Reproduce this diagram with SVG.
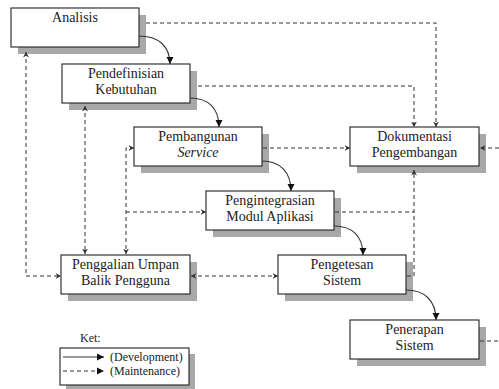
<svg xmlns="http://www.w3.org/2000/svg" width="499" height="389" viewBox="0 0 499 389">
<style>
.sh{fill:#a8a8a8}
.bx{fill:#fff;stroke:#222;stroke-width:1.1}
.t{font-size:14px;fill:#222;text-anchor:middle}
.lt{font-size:12px;fill:#222}
.sol{fill:none;stroke:#333;stroke-width:1.1}
.dsh{fill:none;stroke:#333;stroke-width:1;stroke-dasharray:4,3}
</style>
<defs>
<marker id="s" markerUnits="userSpaceOnUse" markerWidth="8" markerHeight="8" refX="7" refY="4" orient="auto"><path d="M0,0.5 L7,4 L0,7.5 z" fill="#111"/></marker>
<marker id="o" markerUnits="userSpaceOnUse" markerWidth="7" markerHeight="7" refX="5.5" refY="3" orient="auto-start-reverse"><path d="M0,0 L5.5,3 L0,6 L1.8,3 z" fill="#333"/></marker>
</defs>
<g font-family="Liberation Serif, Times New Roman, DejaVu Serif, serif">
<g id="analisis">
<rect class="sh" x="18" y="15" width="128" height="39"/>
<rect class="bx" x="11" y="8" width="128" height="39"/>
<text class="t" x="75" y="22">Analisis</text>
</g>
<g id="pendefinisian">
<rect class="sh" x="69" y="71" width="128" height="39"/>
<rect class="bx" x="62" y="64" width="128" height="39"/>
<text class="t" x="126" y="78">Pendefinisian</text>
<text class="t" x="126" y="94">Kebutuhan</text>
</g>
<g id="pembangunan">
<rect class="sh" x="141" y="134" width="128" height="39"/>
<rect class="bx" x="134" y="127" width="128" height="39"/>
<text class="t" x="198" y="141">Pembangunan</text>
<text class="t" x="198" y="157" font-style="italic">Service</text>
</g>
<g id="dokumentasi">
<rect class="sh" x="357" y="134" width="129" height="39"/>
<rect class="bx" x="350" y="127" width="129" height="39"/>
<text class="t" x="414.5" y="141">Dokumentasi</text>
<text class="t" x="414.5" y="157">Pengembangan</text>
</g>
<g id="pengintegrasian">
<rect class="sh" x="213" y="198" width="128" height="39"/>
<rect class="bx" x="206" y="191" width="128" height="39"/>
<text class="t" x="270" y="205">Pengintegrasian</text>
<text class="t" x="270" y="221">Modul Aplikasi</text>
</g>
<g id="penggalian">
<rect class="sh" x="68" y="262" width="129" height="39"/>
<rect class="bx" x="61" y="255" width="129" height="39"/>
<text class="t" x="125.5" y="269">Penggalian Umpan</text>
<text class="t" x="125.5" y="285">Balik Pengguna</text>
</g>
<g id="pengetesan">
<rect class="sh" x="285" y="262" width="128" height="39"/>
<rect class="bx" x="278" y="255" width="128" height="39"/>
<text class="t" x="342" y="269">Pengetesan</text>
<text class="t" x="342" y="285">Sistem</text>
</g>
<g id="penerapan">
<rect class="sh" x="357" y="327" width="129" height="39"/>
<rect class="bx" x="350" y="320" width="129" height="39"/>
<text class="t" x="414.5" y="334">Penerapan</text>
<text class="t" x="414.5" y="350">Sistem</text>
</g>
<g id="connectors">
<path class="sol" d="M139,36 C158,36 170,46 170,64" marker-end="url(#s)"/>
<path class="sol" d="M190,98 C208,98 219,108 219,127" marker-end="url(#s)"/>
<path class="sol" d="M262,161 C280,161 291,172 291,191" marker-end="url(#s)"/>
<path class="sol" d="M334,226 C352,226 363,236 363,255" marker-end="url(#s)"/>
<path class="sol" d="M406,290 C424,290 436,300 436,320" marker-end="url(#s)"/>
<path class="dsh" d="M146,23 H436 V127" marker-end="url(#o)"/>
<path class="dsh" d="M198,86 H414 V127" marker-end="url(#o)"/>
<path class="dsh" d="M263,148 H350" marker-end="url(#o)"/>
<path class="dsh" d="M499,148 H480" marker-end="url(#o)"/>
<path class="dsh" d="M335,212 H414"/>
<path class="dsh" d="M407,276 H414 V170" marker-end="url(#o)"/>
<path class="dsh" d="M480,341 H499"/>
<path class="dsh" d="M26,52 V276 H61" marker-start="url(#o)" marker-end="url(#o)"/>
<path class="dsh" d="M85,106 V254" marker-start="url(#o)" marker-end="url(#o)"/>
<path class="dsh" d="M134,148 H126 V254" marker-start="url(#o)" marker-end="url(#o)"/>
<path class="dsh" d="M126,212 H206" marker-end="url(#o)"/>
<path class="dsh" d="M191,276 H278" marker-start="url(#o)" marker-end="url(#o)"/>
</g>
<g id="legend">
<text class="lt" x="80" y="342" font-size="11">Ket:</text>
<rect class="sh" x="66" y="354" width="129" height="37"/>
<rect class="bx" x="60" y="348" width="129" height="37"/>
<path class="sol" d="M63,357 H104" marker-end="url(#s)"/>
<path class="dsh" d="M63,371 H104" marker-end="url(#s)"/>
<text class="lt" x="110" y="361">(Development)</text>
<text class="lt" x="110" y="375">(Maintenance)</text>
</g>
</g>
</svg>
